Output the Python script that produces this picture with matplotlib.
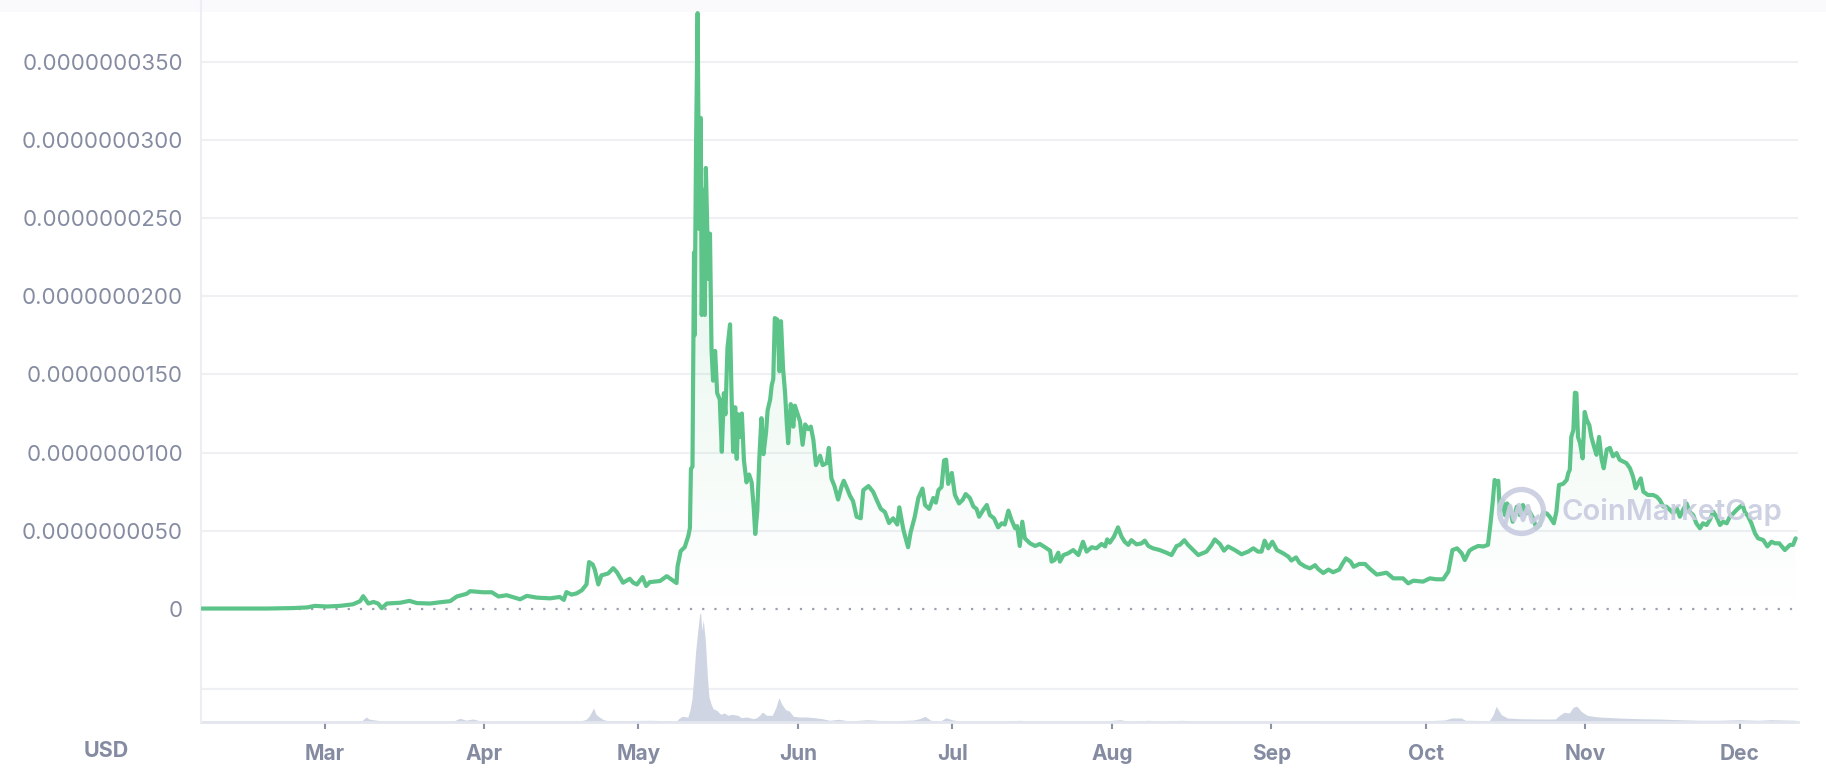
import datetime as dt
import numpy as np
import matplotlib
matplotlib.use("Agg")
import matplotlib.pyplot as plt
import matplotlib.dates as mdates
from matplotlib.ticker import FuncFormatter
from matplotlib.patches import Ellipse, Rectangle
from matplotlib.lines import Line2D

plt.rcParams['font.family'] = ['Inter', 'DejaVu Sans']

# ---------------- data ----------------
# time axis: days since 2021-03-01 ; price in units of 1e-9 USD
price_days = [
    -23.8, -17.8, -11.2, -6.1, -3.4, -1.9, 0.5, 3.0, 5.5, 6.9, 7.5, 8.5, 9.5, 10.4, 11.1, 12.1,
    14.7, 16.5, 17.9, 20.5, 22.4, 24.4, 25.7, 27.6, 28.3, 30.8, 32.5, 33.8, 35.4, 38.0, 39.3,
    41.2, 43.8, 45.7, 46.5, 47.0, 48.0, 49.0, 50.0, 50.9, 51.4, 52.1, 52.5, 53.2, 53.8, 55.1,
    56.1, 56.8, 58.0, 59.3, 60.0, 60.7, 61.8, 62.5, 63.2, 65.2,
    66.5, 67.8, 68.4, 68.6, 69.2, 70.0, 70.7, 71.0, 71.2, 71.5, 71.8, 71.9, 72.2, 72.5, 72.8,
    73.1, 73.3, 73.6, 73.9, 74.1, 74.6, 74.9, 75.2, 75.5, 75.9, 76.3, 76.8, 77.2, 77.6, 77.9,
    78.3, 78.8, 79.1, 79.4, 79.8, 80.1, 80.4, 80.7, 81.1, 81.5, 82.0, 82.5, 83.0, 83.4, 83.7,
    84.1, 84.5, 84.9, 85.3, 85.8, 86.1, 86.6, 86.9, 87.2, 87.5, 88.0, 88.4, 88.7, 89.1, 89.5,
    89.8, 90.1, 90.6, 91.1, 91.4, 91.9, 92.4, 92.9, 93.4, 94.0, 94.5, 95.0, 95.5, 96.3, 96.8,
    97.6, 98.0, 98.5, 99.1, 99.8, 100.5, 100.9, 101.5, 102.1, 102.7, 103.4, 104.2, 104.7,
    105.7, 106.6, 107.4, 108.1, 108.9, 109.7, 110.5, 111.3, 111.7, 112.5, 113.4, 113.9, 114.7,
    115.4, 116.2, 116.7, 117.5, 118.3, 118.8, 119.3, 119.9, 120.4, 120.8, 121.2, 121.9, 122.5,
    123.3, 124.0, 124.6, 125.4, 126.1, 126.7, 127.2, 128.0, 128.7, 129.3, 130.1, 130.9, 131.6,
    132.2, 132.9, 133.5, 134.2, 134.6, 135.1, 135.6, 136.1, 137.1, 138.1, 139.0, 140.0, 141.0,
    141.3, 141.9, 142.6, 142.9, 143.6, 144.5, 145.5, 146.5, 147.4, 148.1, 149.1, 150.0, 151.0,
    151.7, 152.1, 152.6, 153.4, 154.2, 154.9, 155.5, 156.2, 156.8, 157.8, 158.8, 159.4, 160.1,
    161.0, 162.3, 163.6, 164.6, 165.6, 166.2, 167.1, 167.8, 168.8, 169.8, 171.4, 172.4, 173.0,
    174.0, 174.8, 175.6, 176.9, 178.2, 179.5, 180.5, 181.4, 182.1, 182.7, 183.4, 184.2, 185.1,
    186.3, 187.3, 187.9, 188.8, 189.5, 190.5, 191.5, 192.5, 193.1, 194.1, 195.1, 196.0, 197.2,
    197.8, 198.5, 199.4, 200.0, 201.1, 202.2, 203.2, 204.5, 206.4, 207.7, 209.6, 210.6, 211.6,
    213.5, 214.8, 216.1, 217.4, 218.4, 219.2, 220.1, 221.0, 221.6, 222.5, 223.2, 224.2, 225.2,
    226.1, 226.6, 227.0, 227.4, 227.8, 228.1, 228.4, 228.9, 229.4, 229.8, 230.4, 230.9, 231.7,
    232.3, 232.9, 233.6, 234.2, 234.9, 235.5, 236.2, 236.8, 237.5, 238.1, 238.9, 239.4, 239.9,
    240.7, 241.4, 241.7, 242.0, 242.3, 242.7, 243.0, 243.3, 243.6, 244.0, 244.5, 244.9, 245.3,
    245.8, 246.2, 246.7, 247.2, 247.7, 248.2, 248.6, 249.2, 249.8, 250.4, 251.1, 251.7, 252.4,
    253.0, 253.7, 254.3, 254.8, 255.3, 255.8, 256.3, 257.2, 258.2, 258.9, 259.5, 260.2, 260.8,
    261.5, 262.1, 262.8, 263.4, 264.0, 264.7, 265.3, 266.0, 266.6, 267.3, 267.9, 268.6, 269.2,
    269.9, 270.5, 271.2, 271.8, 272.5, 273.1, 273.8, 274.4, 275.1, 275.6, 276.0, 276.7, 277.3,
    278.0, 278.6, 279.6, 280.4, 281.2, 281.9, 282.7, 283.8, 284.8, 285.4, 285.9,
]
price_nano = [
    0.03, 0.03, 0.03, 0.06, 0.10, 0.20, 0.16, 0.20, 0.30, 0.50, 0.82, 0.35, 0.45, 0.35, 0.05, 0.35,
    0.40, 0.52, 0.38, 0.35, 0.43, 0.50, 0.80, 0.97, 1.14, 1.07, 1.07, 0.80, 0.88, 0.62, 0.84,
    0.73, 0.68, 0.77, 0.58, 1.08, 0.92, 1.00, 1.20, 1.57, 3.00, 2.85, 2.53, 1.57, 2.15, 2.27,
    2.61, 2.36, 1.68, 1.93, 1.68, 1.57, 2.04, 1.47, 1.72, 1.79,
    2.10, 1.80, 1.66, 2.72, 3.70, 3.96, 4.68, 5.18, 8.96, 9.10, 22.8, 17.5, 29.8, 38.1, 24.3,
    31.4, 18.8, 26.8, 18.8, 28.2, 21.1, 24.0, 16.6, 14.6, 16.5, 13.8, 13.4, 10.05, 13.8, 12.45,
    16.7, 18.2, 13.6, 10.05, 12.9, 9.6, 12.45, 11.0, 12.5, 9.5, 8.1, 8.6, 8.1, 6.5, 4.8,
    6.3, 9.7, 12.2, 9.9, 11.3, 12.7, 13.4, 14.3, 14.7, 18.6, 18.5, 15.2, 18.4, 15.4, 13.8,
    12.0, 10.6, 13.1, 11.66, 13.0, 12.5, 12.0, 10.5, 11.8, 11.5, 11.66, 10.8, 9.2, 9.8, 9.2,
    9.33, 10.3, 8.35, 7.86, 7.0, 7.86, 8.2, 7.75, 7.25, 6.9, 5.9, 5.8, 7.6,
    7.86, 7.5, 6.9, 6.4, 6.2, 5.5, 5.8, 5.4, 6.5, 5.05, 3.95, 4.9, 5.9,
    7.1, 7.7, 6.65, 6.4, 7.1, 6.8, 7.6, 7.8, 9.5, 9.55, 8.0, 8.7, 7.3,
    6.75, 6.97, 7.35, 7.1, 6.55, 6.4, 5.9, 6.33, 6.65, 6.0, 5.8, 5.22, 5.48,
    5.4, 6.29, 5.7, 5.16, 5.3, 4.03, 5.58, 4.52, 4.2, 4.03, 4.16, 3.95, 3.73,
    3.03, 3.14, 3.6, 3.03, 3.45, 3.56, 3.77, 3.45, 4.3, 3.67, 3.95, 3.88, 4.16,
    4.0, 4.45, 4.24, 4.62, 5.22, 4.62, 4.3, 4.1, 4.4, 4.13, 4.2, 4.37, 4.03,
    3.88, 3.77, 3.6, 3.45, 4.03, 4.1, 4.4, 4.1, 3.77, 3.45, 3.67, 4.1, 4.45,
    4.16, 3.73, 4.0, 3.77, 3.5, 3.67, 3.88, 3.67, 3.67, 4.37, 3.88, 4.3, 3.77,
    3.56, 3.35, 3.1, 3.3, 2.94, 2.73, 2.6, 2.8, 2.56, 2.3, 2.52, 2.35, 2.52,
    2.88, 3.24, 3.03, 2.7, 2.88, 2.88, 2.56, 2.2, 2.32, 1.96, 1.96, 1.64, 1.81,
    1.75, 1.96, 1.9, 1.9, 2.39, 3.77, 3.88, 3.56, 3.13, 3.73, 3.88, 4.03, 4.0,
    4.1, 5.48, 6.75, 8.25, 8.0, 8.2, 6.33, 6.97, 6.0, 6.75, 6.44, 5.58, 6.54,
    6.0, 6.65, 6.12, 6.22, 5.8, 5.16, 5.37, 6.16, 6.12, 5.9, 5.48, 6.22, 7.93,
    8.0, 8.25, 8.68, 8.9, 11.0, 11.45, 13.83, 13.8, 11.0, 10.6, 9.63, 12.6, 12.1,
    11.76, 11.0, 10.4, 9.86, 11.0, 9.54, 9.0, 10.2, 10.3, 9.76, 9.97, 9.54, 9.43,
    9.33, 9.0, 8.46, 7.72, 8.04, 8.35, 7.5, 7.29, 7.29, 7.18, 6.97, 6.54, 6.54,
    6.33, 6.12, 6.44, 5.9, 6.33, 6.75, 6.22, 6.0, 5.48, 5.16, 5.48, 5.37, 5.69,
    6.22, 5.9, 5.37, 5.58, 5.48, 5.9, 6.12, 6.33, 6.54, 6.65, 6.22, 5.9, 5.48,
    4.84, 4.52, 4.41, 4.0, 4.3, 4.2, 4.2, 3.77, 4.1, 4.1, 4.52,
]
# relative trading volume (no scale shown on the chart)
volume_days = [
    -23.8, -4.8, 6.3, 7.3, 8.1, 8.6, 9.4, 11.5, 22.4, 25.3, 26.3, 27.5, 28.8, 30.2, 32.3, 45.7,
    49.6, 50.8, 51.4, 52.3, 52.7, 53.2, 54.1, 54.9, 59.3, 63.2, 67.1, 68.4, 68.8, 69.5, 70.6,
    71.0, 71.4, 71.7, 72.1, 72.5, 72.9, 73.1, 73.3, 73.6, 74.0, 74.4, 74.7, 75.1, 75.5, 76.2,
    77.0, 77.7, 78.4, 79.2, 80.3, 81.0, 82.1, 83.3, 84.0, 84.6, 85.1, 85.9, 87.0, 87.7, 88.3,
    88.8, 89.6, 90.3, 91.1, 92.2, 93.7, 95.2, 96.7, 98.1, 100.0, 101.9, 105.6, 109.3, 113.0,
    114.5, 115.6, 116.7, 117.8, 119.7, 120.8, 121.9, 123.4, 131.2, 135.3, 136.8, 150.7, 154.7,
    156.1, 160.2, 162.1, 166.6, 170.1, 189.6, 195.4, 212.9, 217.7, 219.0, 220.9, 221.7, 224.5,
    226.4, 227.1, 227.7, 228.1, 228.7, 229.9, 232.2, 236.1, 239.2, 239.9, 240.9, 241.9, 242.7,
    243.4, 244.2, 245.4, 246.5, 247.7, 251.6, 255.5, 259.3, 263.2, 267.1, 271.0, 274.8, 278.7,
    281.1, 285.9,
]
volume_rel = [
    0.7, 0.7, 0.8, 1.5, 5.0, 3.0, 2.3, 0.8, 0.8, 1.5, 3.7, 1.8, 3.0, 1.2, 1.0, 0.8,
    1.0, 2.5, 5.7, 14.0, 8.0, 5.7, 2.5, 1.5, 1.5, 1.7, 1.3, 1.0, 3.3, 5.7, 5.0,
    11.7, 23.3, 41.7, 70.0, 90.0, 108.0, 109.0, 91.7, 102.0, 81.7, 45.0, 25.0, 18.3, 13.3, 11.7,
    7.7, 9.0, 6.7, 7.7, 6.7, 4.3, 5.0, 3.3, 4.3, 7.0, 10.0, 6.7, 6.7, 14.3, 24.3,
    18.3, 12.3, 11.0, 5.7, 5.0, 5.0, 4.3, 3.3, 1.7, 2.7, 1.0, 2.3, 1.0, 1.7,
    2.0, 3.3, 5.7, 1.7, 1.0, 4.3, 2.3, 1.0, 0.7, 1.7, 0.7, 0.7, 2.3,
    0.7, 1.7, 0.8, 1.7, 0.8, 1.2, 1.0, 1.0, 2.0, 4.0, 4.0, 1.7, 1.5,
    1.5, 7.3, 15.7, 12.3, 7.3, 4.0, 3.3, 3.0, 3.0, 6.3, 9.7, 9.0, 15.0,
    15.7, 10.7, 6.7, 5.7, 5.0, 4.0, 3.3, 3.0, 2.3, 1.7, 1.7, 2.3, 1.7,
    2.3, 1.7,
]
y_ticks = [0, 5, 10, 15, 20, 25, 30, 35]
volume_grid = [33]
currency_label = "USD"
watermark_text = "CoinMarketCap"

# ---------------- style ----------------
GREEN = "#5CC489"
LABEL = "#858CA2"
GRID = "#EFF0F4"
VOLC = "#CFD5E3"

W, H, DPI = 1826, 772, 100
fig = plt.figure(figsize=(W / DPI, H / DPI), dpi=DPI)
fig.patch.set_facecolor("white")


def fx(px):
    return px / W


def fy(py):
    return 1 - py / H


# faint top band
fig.add_artist(Rectangle((0, fy(12)), 1, 1 - fy(12), transform=fig.transFigure,
                         facecolor="#FAFAFC", edgecolor="none", zorder=0))

base = mdates.date2num(dt.datetime(2021, 3, 1))
px = base + np.array(price_days)
py = np.array(price_nano)
vx = base + np.array(volume_days)
vy = np.array(volume_rel)
xlim = (base - 24.02, base + 286.3)

L, R = 201, 1797.7
# volume axes (below)
axv = fig.add_axes([fx(L), fy(722), fx(R) - fx(L), fy(609) - fy(722)])
axv.set_zorder(1)
axv.patch.set_visible(False)
axv.fill_between(vx, vy, 0, color=VOLC, lw=0)
axv.set_xlim(*xlim)
axv.set_ylim(0, 113)
axv.set_yticks(volume_grid)
axv.yaxis.grid(True, color=GRID, lw=1.6)
axv.tick_params(axis="y", length=0, labelleft=False)
for s in ("top", "right", "left"):
    axv.spines[s].set_visible(False)
axv.spines["bottom"].set_color("#E3E6EE")
axv.spines["bottom"].set_linewidth(2.0)
axv.xaxis.set_major_locator(mdates.MonthLocator())
axv.xaxis.set_major_formatter(mdates.DateFormatter("%b"))
axv.tick_params(axis="x", length=5, width=1.5, color="#8C93A6", pad=11,
                labelsize=15, labelcolor=LABEL)
axv.set_axisbelow(True)

# price axes (on top)
ax = fig.add_axes([fx(L), fy(722), fx(R) - fx(L), fy(0) - fy(722)])
ax.set_zorder(2)
ax.patch.set_visible(False)

poly = ax.fill_between(px, py, 0, color="none", lw=0)
top = py.max()
n = 256
grad = np.zeros((n, 1, 4))
rgb = matplotlib.colors.to_rgb(GREEN)
grad[..., 0], grad[..., 1], grad[..., 2] = rgb
grad[:, 0, 3] = np.linspace(0.0, 0.24, n)
im = ax.imshow(grad, extent=[px.min(), px.max(), 0, top], origin="lower",
               aspect="auto", zorder=1, interpolation="bilinear")
im.set_clip_path(poly.get_paths()[0], ax.transData)

ax.plot(px, py, color=GREEN, lw=3.0, solid_joinstyle="round", solid_capstyle="round", zorder=3)

ax.set_xlim(*xlim)
ax.set_ylim(-113 / 15.64, 609 / 15.64)
ax.set_yticks(y_ticks)
ax.yaxis.set_major_formatter(FuncFormatter(lambda v, p: "0" if abs(v) < 1e-9 else f"{v * 1e-9:.10f}"))
ax.tick_params(axis="y", length=0, pad=13, labelsize=16, labelcolor=LABEL)
ax.tick_params(axis="x", length=0, labelbottom=False)
ax.yaxis.grid(True, color=GRID, lw=1.5, zorder=0)
ax.set_axisbelow(True)
for s in ("top", "right", "bottom"):
    ax.spines[s].set_visible(False)
ax.spines["left"].set_color("#ECEEF3")
ax.spines["left"].set_linewidth(1.5)

fig.canvas.draw()
gl = ax.yaxis.get_gridlines()
for t, g in zip(ax.get_yticks(), gl):
    if abs(t) < 1e-9:
        g.set_color("#9AA0B1")
        g.set_linestyle((0, (1, 4.5)))
        g.set_linewidth(1.6)
plt.setp(axv.get_xticklabels(), fontweight="bold")

# currency label
fig.text(fx(106), fy(751), currency_label, ha="center", va="center",
         fontsize=15.5, fontweight="bold", color=LABEL)

# watermark
WM = "#C9CDE0"
fig.add_artist(Ellipse((fx(1521.5), fy(511.5)), 44 / W, 44 / H, transform=fig.transFigure,
                       facecolor="none", edgecolor=WM, lw=3.8, zorder=5, alpha=0.92))
wx = [1505, 1510, 1514, 1519, 1523, 1528, 1532, 1538]
wyy = [525, 506, 520, 505, 520, 506, 522, 517]
fig.add_artist(Line2D([fx(v) for v in wx], [fy(v) for v in wyy], transform=fig.transFigure,
                      color=WM, lw=3.2, zorder=5, solid_joinstyle="round", alpha=0.92))
fig.text(fx(1561), fy(512), watermark_text, ha="left", va="center", fontsize=21,
         fontweight="semibold", color=WM, alpha=0.92, zorder=5)

fig.savefig("out.png", dpi=DPI, facecolor="white")
